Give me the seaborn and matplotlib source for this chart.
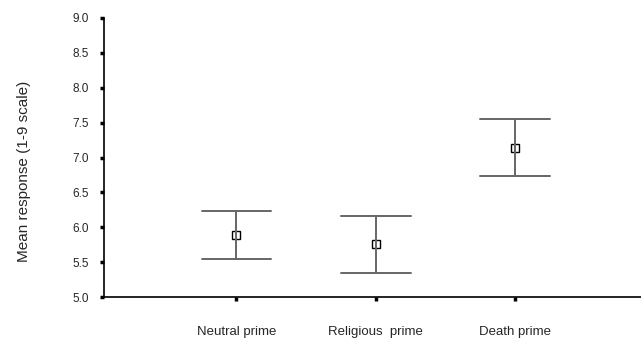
import numpy as np
import pandas as pd
import matplotlib
matplotlib.use("Agg")
from matplotlib import pyplot as plt
import seaborn as sns

# means and 95% CI bounds
conditions = ["Neutral prime", "Religious  prime", "Death prime"]
means = [5.89, 5.76, 7.14]
ci_low = [5.55, 5.35, 6.73]
ci_high = [6.23, 6.16, 7.55]

rows = []
for c, lo, m, hi in zip(conditions, ci_low, means, ci_high):
    for v in (lo, m, hi):
        rows.append({"condition": c, "response": v})
df = pd.DataFrame(rows)

sns.set_style("white")
plt.rcParams["font.family"] = ["Liberation Sans", "DejaVu Sans"]

fig = plt.figure(figsize=(6.41, 3.40), dpi=100)
ax = fig.add_axes([104 / 641, 43 / 340, 1 - 104 / 641 + 0.01, 279 / 340])

sns.pointplot(
    data=df, x="condition", y="response",
    estimator=np.median,
    errorbar=lambda v: (v.min(), v.max()),
    capsize=0.5, linestyle="none",
    color="#666666", err_kws={"linewidth": 1.4},
    markers="s", markersize=6,
    markerfacecolor="white", markeredgecolor="black", markeredgewidth=1.0,
    ax=ax,
)

ax.set_ylim(5.0, 9.0)
ax.set_xlim(-0.95, 2.95)
ax.set_yticks(np.arange(5.0, 9.01, 0.5))
ax.set_yticklabels([f"{v:.1f}" for v in np.arange(5.0, 9.01, 0.5)])
ax.set_xlabel("")
ax.set_ylabel("Mean response (1-9 scale)", fontsize=11)
ax.yaxis.set_label_coords(-0.135, 0.45)

for s in ["top", "right"]:
    ax.spines[s].set_visible(False)
for s in ["left", "bottom"]:
    ax.spines[s].set_color("black")
    ax.spines[s].set_linewidth(1.2)

ax.tick_params(axis="y", direction="out", length=3, width=2.5, color="black",
               labelsize=8.5, pad=8, left=True)
ax.tick_params(axis="x", direction="out", length=3, width=2.5, color="black",
               labelsize=9.5, pad=18, bottom=True)

fig.savefig("out.png", dpi=100)
